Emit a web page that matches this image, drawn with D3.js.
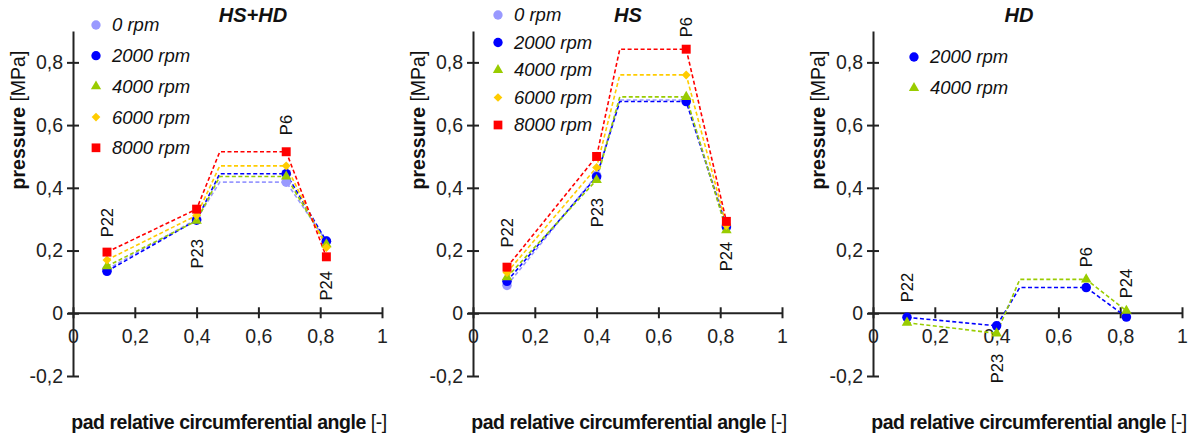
<!DOCTYPE html>
<html>
<head>
<meta charset="utf-8">
<title>pad pressure</title>
<script src="https://cdn.jsdelivr.net/npm/d3@7"></script>
<style>
  body { margin: 0; background: #fff; }
  svg { font-family: "Liberation Sans", Arial, sans-serif; }
</style>
</head>
<body>
<div id="container"></div>
<script>
// sensor positions on the pad (relative circumferential angle)
var sensors = ["P22", "P23", "P6", "P24"];
var sensorX = [0.11, 0.40, 0.69, 0.82];
var plateauX = 0.475;   // start of the flat segment before P6

var speeds = ["0 rpm", "2000 rpm", "4000 rpm", "6000 rpm", "8000 rpm"];
var colors = ["#9999ff", "#0000ff", "#99cc00", "#ffcc00", "#ff0000"];
var shapes = ["circle", "circle", "triangle", "diamond", "square"];

var xTicks = [0, 0.2, 0.4, 0.6, 0.8, 1];
var yTicks = [-0.2, 0, 0.2, 0.4, 0.6, 0.8];

// pressure [MPa] at P22, P23, P6, P24
var hshd = [
  [0.140, 0.300, 0.418, 0.230],
  [0.134, 0.297, 0.445, 0.230],
  [0.150, 0.295, 0.436, 0.220],
  [0.170, 0.312, 0.470, 0.210],
  [0.195, 0.332, 0.515, 0.180]
];
var hs = [
  [0.089, 0.440, 0.680, 0.280],
  [0.102, 0.435, 0.675, 0.275],
  [0.115, 0.425, 0.690, 0.265],
  [0.130, 0.465, 0.760, 0.280],
  [0.147, 0.500, 0.842, 0.293]
];
var hd = [
  null,
  [-0.013, -0.040, 0.082, -0.012],
  [-0.030, -0.064, 0.108, 0.008],
  null,
  null
];

// where the rotated sensor labels end (in pressure units)
var labelsHSHD = [0.242, 0.143, 0.568, 0.041];
var labelsHS = [0.210, 0.274, 0.880, 0.134];
var labelsHD = [0.035, -0.223, 0.147, 0.048];

var panels = [
  { title: "HS+HD", data: hshd, labels: labelsHSHD, ox: 73, titleX: 253, legX: 96, legY: 25, legStep: 30.7 },
  { title: "HS", data: hs, labels: labelsHS, ox: 473, titleX: 628, legX: 498, legY: 15, legStep: 27.5 },
  { title: "HD", data: hd, labels: labelsHD, ox: 873, titleX: 1019, legX: 914, legY: 57, legStep: 31 }
];

var W = 1189, H = 437;
var axisW = 309;

var locale = d3.formatLocale({ decimal: ",", thousands: ".", grouping: [3], currency: ["", ""], minus: "-" });
var fmt = locale.format("~g");

// marker generator: square rotated for the diamond
function marker(shape, scale) {
  var s = scale || 1;
  if (shape === "circle") return { d: d3.symbol().type(d3.symbolCircle).size(72 * s)(), rot: 0 };
  if (shape === "triangle") return { d: d3.symbol().type(d3.symbolTriangle).size(48 * s)(), rot: 0 };
  if (shape === "diamond") return { d: d3.symbol().type(d3.symbolSquare).size(40 * s)(), rot: 45 };
  return { d: d3.symbol().type(d3.symbolSquare).size(80 * s)(), rot: 0 };
}

var svg = d3.select("#container").append("svg")
  .attr("width", W)
  .attr("height", H);

var y = d3.scaleLinear().domain([-0.2, 0.9]).range([376, 31]);

panels.forEach(function (p) {
  var x = d3.scaleLinear().domain([0, 1]).range([p.ox, p.ox + axisW]);
  var g = svg.append("g");

  // axes
  var yAxis = d3.axisLeft(y).tickValues(yTicks).tickSize(5).tickSizeOuter(0).tickFormat(fmt);
  var gy = g.append("g").attr("transform", "translate(" + p.ox + ",0)").call(yAxis);
  gy.select(".domain").attr("stroke", "#222").attr("stroke-width", 2);
  gy.selectAll(".tick line").attr("x1", 6).attr("x2", -6).attr("stroke", "#222").attr("stroke-width", 2);
  gy.selectAll(".tick text").attr("x", -10).style("font-size", "19.5px").attr("fill", "#222");

  var xAxis = d3.axisBottom(x).tickValues(xTicks).tickSize(5).tickSizeOuter(0).tickFormat(fmt);
  var gx = g.append("g").attr("transform", "translate(0," + y(0) + ")").call(xAxis);
  gx.select(".domain").attr("stroke", "#222").attr("stroke-width", 2).attr("d", "M" + (p.ox - 5) + ",0H" + (p.ox + axisW));
  gx.selectAll(".tick line").attr("y1", -6).attr("y2", 5).attr("stroke", "#222").attr("stroke-width", 2);
  gx.selectAll(".tick text").attr("y", 16).style("font-size", "19.5px").attr("fill", "#222");

  // lines and markers
  var line = d3.line().x(function (d) { return x(d[0]); }).y(function (d) { return y(d[1]); });
  p.data.forEach(function (vals, i) {
    if (!vals) return;
    var pts = [[sensorX[0], vals[0]], [sensorX[1], vals[1]], [plateauX, vals[2]], [sensorX[2], vals[2]], [sensorX[3], vals[3]]];
    g.append("path")
      .attr("d", line(pts))
      .attr("fill", "none")
      .attr("stroke", colors[i])
      .attr("stroke-width", 1.6)
      .attr("stroke-dasharray", "4,2.5");
  });
  p.data.forEach(function (vals, i) {
    if (!vals) return;
    var m = marker(shapes[i]);
    g.selectAll(null)
      .data(vals)
      .enter()
      .append("path")
      .attr("d", m.d)
      .attr("transform", function (d, k) { return "translate(" + x(sensorX[k]) + "," + y(d) + ") rotate(" + m.rot + ")"; })
      .attr("fill", colors[i]);
  });

  // sensor labels
  g.selectAll(null)
    .data(sensors)
    .enter()
    .append("text")
    .attr("transform", function (d, k) { return "translate(" + (x(sensorX[k]) + 6) + "," + y(p.labels[k]) + ") rotate(-90)"; })
    .style("font-size", "16.5px")
    .attr("fill", "#111")
    .text(function (d) { return d; });

  // legend
  var row = 0;
  p.data.forEach(function (vals, i) {
    if (!vals) return;
    var ly = p.legY + row * p.legStep;
    var m = marker(shapes[i], 0.95);
    g.append("path")
      .attr("d", m.d)
      .attr("transform", "translate(" + p.legX + "," + ly + ") rotate(" + m.rot + ")")
      .attr("fill", colors[i]);
    g.append("text")
      .attr("x", p.legX + 16)
      .attr("y", ly)
      .attr("dy", "0.35em")
      .style("font-size", "18.5px")
      .style("font-style", "italic")
      .attr("fill", "#111")
      .text(speeds[i]);
    row++;
  });

  // title
  g.append("text")
    .attr("x", p.titleX)
    .attr("y", 15)
    .attr("dy", "0.35em")
    .attr("text-anchor", "middle")
    .style("font-size", "20px")
    .style("font-weight", "bold")
    .style("font-style", "italic")
    .attr("fill", "#111")
    .text(p.title);

  // axis titles
  var yt = g.append("text")
    .attr("transform", "translate(" + (p.ox - 55) + ",120) rotate(-90)")
    .attr("text-anchor", "middle")
    .attr("dy", "0.35em")
    .style("font-size", "19.5px")
    .attr("fill", "#111");
  yt.append("tspan").style("font-weight", "bold").text("pressure ");
  yt.append("tspan").text("[MPa]");

  var xt = g.append("text")
    .attr("x", p.ox + 156)
    .attr("y", 422)
    .attr("dy", "0.35em")
    .attr("text-anchor", "middle")
    .style("font-size", "19.5px")
    .style("letter-spacing", "-0.45px")
    .attr("fill", "#111");
  xt.append("tspan").style("font-weight", "bold").text("pad relative circumferential angle ");
  xt.append("tspan").text("[-]");
});
</script>
</body>
</html>
